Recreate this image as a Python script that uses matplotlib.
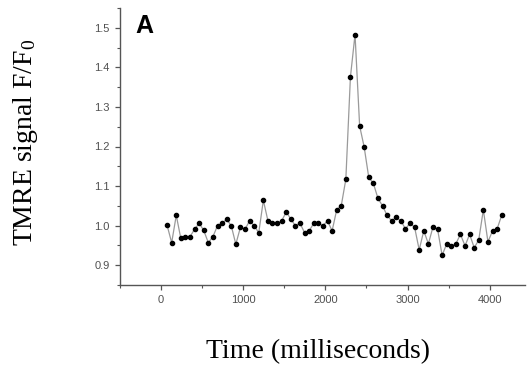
import matplotlib.pyplot as plt
from matplotlib.ticker import MultipleLocator

plt.rcParams['mathtext.fontset'] = 'custom'
plt.rcParams['mathtext.rm'] = 'Liberation Serif'
plt.rcParams['mathtext.it'] = 'Liberation Serif'

# time of each frame (ms) and TMRE F/F0 values
time_ms = [73, 129, 185, 240, 296, 352, 408, 464, 519, 575,
           631, 687, 743, 798, 854, 910, 966, 1022, 1077, 1133,
           1189, 1245, 1301, 1356, 1412, 1468, 1524, 1580, 1635, 1691,
           1747, 1803, 1859, 1914, 1970, 2026, 2082, 2138, 2193, 2249,
           2305, 2361, 2417, 2472, 2528, 2584, 2640, 2696, 2751, 2807,
           2863, 2919, 2975, 3030, 3086, 3142, 3198, 3254, 3309, 3365,
           3421, 3477, 3533, 3588, 3644, 3700, 3756, 3812, 3867, 3923,
           3979, 4035, 4091, 4146]
signal = [1.001, 0.957, 1.026, 0.968, 0.972, 0.972, 0.991, 1.006, 0.988, 0.957,
          0.972, 1.000, 1.006, 1.016, 1.000, 0.953, 0.996, 0.991, 1.012, 1.000,
          0.982, 1.064, 1.012, 1.006, 1.006, 1.012, 1.035, 1.016, 1.000, 1.006,
          0.982, 0.987, 1.006, 1.006, 1.000, 1.012, 0.987, 1.040, 1.050, 1.117,
          1.376, 1.483, 1.252, 1.199, 1.122, 1.107, 1.069, 1.050, 1.026, 1.012,
          1.021, 1.012, 0.992, 1.006, 0.996, 0.939, 0.987, 0.954, 0.996, 0.992,
          0.925, 0.954, 0.949, 0.954, 0.978, 0.949, 0.978, 0.944, 0.964, 1.040,
          0.959, 0.987, 0.992, 1.026]

fig = plt.figure(figsize=(5.27, 3.67), dpi=100)
ax = fig.add_axes([120 / 527, 1 - 285 / 367, 405 / 527, 277 / 367])

ax.plot(time_ms, signal, '-', color='#9a9a9a', lw=0.9, zorder=1)
ax.plot(time_ms, signal, 'o', color='black', markersize=3.0, zorder=2)

ax.set_xlim(-500, 4430)
ax.set_ylim(0.85, 1.55)
ax.xaxis.set_major_locator(MultipleLocator(1000))
ax.xaxis.set_minor_locator(MultipleLocator(500))
ax.yaxis.set_major_locator(MultipleLocator(0.1))
ax.yaxis.set_minor_locator(MultipleLocator(0.05))

for side in ['top', 'right']:
    ax.spines[side].set_visible(False)
for side in ['left', 'bottom']:
    ax.spines[side].set_color('#555555')
    ax.spines[side].set_linewidth(1.0)

ax.tick_params(which='major', direction='out', length=3.5, width=0.9,
               color='#555555', labelsize=8, labelcolor='#505050', pad=4)
ax.tick_params(which='minor', direction='out', length=2, width=0.8,
               color='#555555')
for lab in ax.get_xticklabels() + ax.get_yticklabels():
    lab.set_family('Liberation Sans')

fig.text(135 / 527, 1 - 33 / 367, 'A', fontsize=18, fontweight='bold',
         family='Liberation Sans', va='baseline', ha='left')
fig.text(0.049, 0.613, 'TMRE signal F/F$_0$', rotation=90, fontsize=20,
         family='Liberation Serif', va='center', ha='center')
fig.text(0.603, 0.041, 'Time (milliseconds)', fontsize=20,
         family='Liberation Serif', va='center', ha='center')

fig.savefig('out.png', dpi=100)
